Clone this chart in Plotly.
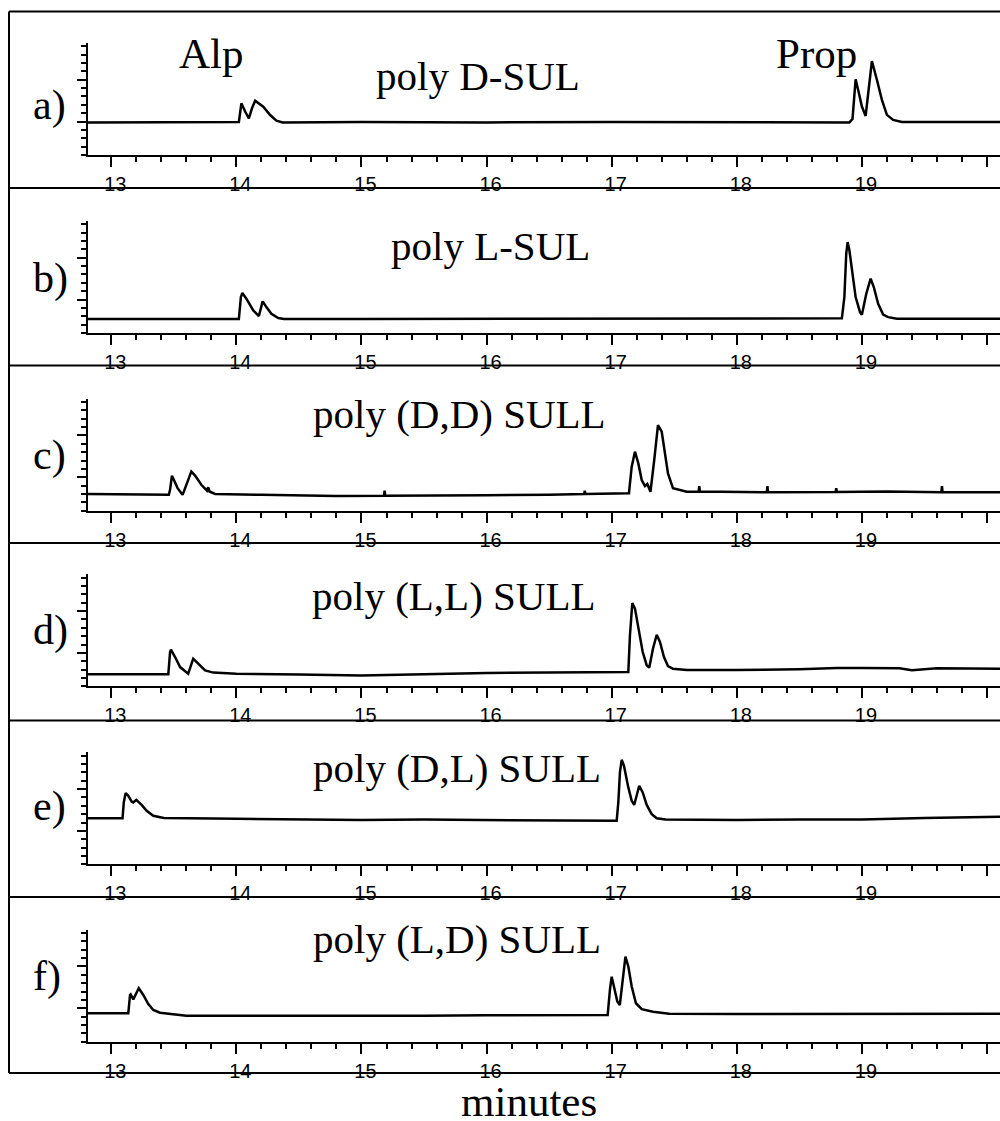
import plotly.graph_objects as go

# ---------------- data (retention time in minutes, detector signal in arbitrary units) -------------
panel_letters = ["a)", "b)", "c)", "d)", "e)", "f)"]
panel_titles = ["poly D-SUL", "poly L-SUL", "poly (D,D) SULL", "poly (L,L) SULL",
                "poly (D,L) SULL", "poly (L,D) SULL"]
peak_labels = ["Alp", "Prop"]
x_tick_vals = [13, 14, 15, 16, 17, 18, 19, 20]
x_tick_text = ["13", "14", "15", "16", "17", "18", "19", "20"]
x_label = "minutes"

t_a = [12.814, 13.5, 14.02, 14.035, 14.04, 14.07, 14.10, 14.125, 14.15, 14.215, 14.27, 14.32, 14.37,
       15.0, 16.0, 17.0, 18.0, 18.9, 18.925, 18.95, 18.97, 19.0, 19.03, 19.05, 19.08, 19.12,
       19.16, 19.2, 19.25, 19.32, 20.104]
s_a = [3.90, 3.92, 3.95, 5.6, 6.18, 5.2, 4.39, 5.6, 6.5, 5.78, 4.78, 4.1, 3.9,
       3.95, 3.9, 3.95, 3.9, 3.9, 4.3, 9.05, 7.8, 5.8, 4.67, 7.4, 11.24, 9.0,
       6.6, 4.8, 4.2, 3.95, 3.95]

t_b = [12.814, 13.5, 14.02, 14.036, 14.048, 14.08, 14.135, 14.18, 14.21, 14.24, 14.28, 14.335, 14.38,
       15.0, 16.0, 17.0, 18.0, 18.84, 18.86, 18.875, 18.886, 18.90, 18.925, 18.95, 18.985, 19.0,
       19.035, 19.07, 19.095, 19.13, 19.17, 19.21, 19.28, 20.104]
s_b = [1.67, 1.68, 1.67, 4.3, 4.78, 4.1, 2.7, 2.03, 3.79, 3.1, 2.3, 1.79, 1.67,
       1.67, 1.7, 1.67, 1.7, 1.75, 4.3, 9.5, 10.88, 9.9, 7.1, 4.3, 2.5, 2.19,
       4.7, 6.5, 5.5, 3.5, 2.2, 1.9, 1.7, 1.7]

t_c = [12.814, 13.2, 13.46, 13.47, 13.485, 13.50, 13.53, 13.57, 13.60, 13.64, 13.67, 13.72, 13.765,
       13.775, 13.785, 13.83, 14.2, 14.8, 15.18, 15.185, 15.19, 15.6, 16.0, 16.5, 16.78, 16.785,
       16.79, 17.138, 17.16, 17.186, 17.213, 17.24, 17.266, 17.285, 17.31, 17.34, 17.36, 17.37,
       17.40, 17.426, 17.45, 17.49, 17.60, 17.695, 17.70, 17.705, 18.24, 18.245, 18.25, 18.79,
       18.795, 18.80, 19.2, 19.635, 19.64, 19.645, 20.104]
s_c = [2.0, 1.95, 1.9, 2.5, 4.19, 3.7, 2.7, 1.9, 3.2, 4.67, 4.2, 3.1, 2.4,
       2.8, 2.3, 2.0, 1.9, 1.75, 1.8, 2.4, 1.8, 1.8, 1.85, 1.9, 2.0, 2.4,
       2.0, 2.1, 5.26, 7.06, 5.66, 3.67, 2.95, 3.2, 2.27, 6.06, 9.45, 10.25,
       9.45, 6.86, 4.47, 2.68, 2.27, 2.3, 2.95, 2.3, 2.2, 2.95, 2.2, 2.25,
       2.7, 2.25, 2.3, 2.2, 2.95, 2.2, 2.2]

t_d = [12.814, 13.2, 13.456, 13.47, 13.477, 13.51, 13.55, 13.615, 13.635, 13.655, 13.695, 13.75,
       13.815, 14.0, 14.5, 15.0, 15.5, 16.0, 16.5, 17.0, 17.133, 17.146, 17.165, 17.186, 17.213,
       17.248, 17.28, 17.30, 17.33, 17.36, 17.386, 17.418, 17.45, 17.49, 17.6, 18.0, 18.5, 18.8,
       19.0, 19.3, 19.4, 19.6, 20.104]
s_d = [1.44, 1.42, 1.44, 4.1, 4.38, 3.5, 2.3, 1.51, 2.3, 3.3, 2.7, 1.91,
       1.64, 1.5, 1.4, 1.3, 1.45, 1.6, 1.65, 1.7, 1.71, 6.1, 9.96, 9.3, 6.9,
       4.1, 2.5, 2.23, 4.5, 6.17, 5.3, 3.5, 2.43, 2.1, 1.95, 1.95, 2.05, 2.2,
       2.2, 2.15, 1.91, 2.15, 2.1]

t_e = [12.814, 13.09, 13.10, 13.115, 13.136, 13.163, 13.175, 13.20, 13.243, 13.283, 13.336, 13.42,
       14.0, 14.5, 15.0, 15.5, 16.0, 16.5, 17.04, 17.053, 17.066, 17.08, 17.098, 17.133, 17.16,
       17.18, 17.20, 17.22, 17.248, 17.28, 17.32, 17.36, 17.43, 18.0, 18.5, 19.0, 19.5, 20.104]
s_e = [5.5, 5.5, 7.4, 8.53, 8.2, 7.5, 7.4, 7.7, 7.1, 6.4, 5.8, 5.55,
       5.45, 5.35, 5.3, 5.35, 5.3, 5.25, 5.2, 7.4, 11.0, 12.5, 11.8, 9.2, 7.6,
       7.1, 8.4, 9.4, 8.6, 7.1, 6.0, 5.5, 5.35, 5.3, 5.35, 5.35, 5.55, 5.7]

t_f = [12.814, 13.136, 13.15, 13.155, 13.176, 13.203, 13.22, 13.256, 13.296, 13.336, 13.39, 13.6,
       14.0, 14.5, 15.0, 15.5, 16.0, 16.5, 16.968, 16.986, 17.0, 17.018, 17.045, 17.065, 17.088,
       17.11, 17.133, 17.16, 17.194, 17.24, 17.33, 17.46, 18.0, 18.5, 19.0, 19.5, 20.104]
s_f = [3.4, 3.4, 5.59, 5.67, 5.07, 5.98, 6.39, 5.59, 4.5, 3.8, 3.47, 3.11,
       3.1, 3.05, 3.1, 3.1, 3.15, 3.2, 3.2, 6.2, 7.78, 6.6, 4.8, 4.39, 7.8,
       10.17, 9.0, 6.6, 4.6, 3.9, 3.59, 3.35, 3.3, 3.3, 3.3, 3.35, 3.35]

times = [t_a, t_b, t_c, t_d, t_e, t_f]
signals = [s_a, s_b, s_c, s_d, s_e, s_f]

# ---------------- layout constants (pixels) ----------------
W, H = 1000, 1121
axis_bottom_px = [155, 333, 510.7, 686.3, 864.3, 1041.7]
axis_height_px = 112
box_lines_px = [11.5, 188, 365.5, 543, 720.5, 897, 1073]
letter_y_px = [105, 278, 455, 630, 806, 976]
title_pos_px = [(478, 76), (490, 246), (459, 414), (454, 596), (457, 768), (457, 939)]
label_pos_px = [(211.5, 54), (816.5, 54)]
xlabel_pos_px = (529, 1101)
x_range = [12.814, 20.104]
y_range = [0, 13.4]

SERIF = "Liberation Serif, Times New Roman, serif"
SANS = "Liberation Sans, Arial, sans-serif"


def py(px):
    return 1 - px / H


fig = go.Figure()
layout = dict(
    width=W, height=H, margin=dict(l=0, r=0, t=0, b=0),
    paper_bgcolor="white", plot_bgcolor="white", showlegend=False,
)

for i in range(6):
    n = "" if i == 0 else str(i + 1)
    fig.add_trace(go.Scatter(x=times[i], y=signals[i], mode="lines",
                             line=dict(color="black", width=2.5),
                             xaxis="x" + n, yaxis="y" + n, hoverinfo="skip"))
    b = axis_bottom_px[i]
    layout["xaxis" + n] = dict(
        domain=[0.088, 1.0], anchor="y" + n, range=x_range,
        showline=True, linecolor="black", linewidth=2, mirror=False,
        showgrid=False, zeroline=False,
        ticks="outside", ticklen=10, tickwidth=2, tickcolor="black",
        tickmode="array", tickvals=x_tick_vals, ticktext=x_tick_text,
        tickfont=dict(family=SANS, size=20, color="black"),
        ticklabelshift=4, ticklabelstandoff=0,
        minor=dict(dtick=0.2, tick0=13, ticks="outside", ticklen=5, tickwidth=2,
                   tickcolor="black", showgrid=False),
    )
    layout["yaxis" + n] = dict(
        domain=[py(b), py(b - axis_height_px)], anchor="x" + n, range=y_range,
        showline=True, linecolor="black", linewidth=2,
        showgrid=False, zeroline=False, showticklabels=False,
        ticks="outside", ticklen=9, tickwidth=2, tickcolor="black",
        tick0=4, dtick=5,
        minor=dict(dtick=1, tick0=4, ticks="outside", ticklen=5, tickwidth=2,
                   tickcolor="black", showgrid=False),
    )

fig.update_layout(**layout)

# panel boxes
shapes = []
for yb in box_lines_px:
    shapes.append(dict(type="line", xref="paper", yref="paper", x0=9 / W, x1=1.02,
                       y0=py(yb), y1=py(yb), line=dict(color="black", width=2)))
shapes.append(dict(type="line", xref="paper", yref="paper", x0=9 / W, x1=9 / W,
                   y0=py(box_lines_px[0]), y1=py(box_lines_px[-1]),
                   line=dict(color="black", width=2)))
fig.update_layout(shapes=shapes)

ann = []
for i in range(6):
    ann.append(dict(text=panel_letters[i], xref="paper", yref="paper",
                    x=31 / W, y=py(letter_y_px[i]), xanchor="left", yanchor="middle",
                    showarrow=False, font=dict(family=SERIF, size=42, color="black")))
    tx, ty = title_pos_px[i]
    ann.append(dict(text=panel_titles[i], xref="paper", yref="paper",
                    x=tx / W, y=py(ty), xanchor="center", yanchor="middle",
                    showarrow=False, font=dict(family=SERIF, size=41, color="black")))
for lab, (lx, ly) in zip(peak_labels, label_pos_px):
    ann.append(dict(text=lab, xref="paper", yref="paper", x=lx / W, y=py(ly),
                    xanchor="center", yanchor="middle", showarrow=False,
                    font=dict(family=SERIF, size=43, color="black")))
ann.append(dict(text=x_label, xref="paper", yref="paper", x=xlabel_pos_px[0] / W,
                y=py(xlabel_pos_px[1]), xanchor="center", yanchor="middle", showarrow=False,
                borderpad=0, font=dict(family=SERIF, size=43, color="black")))
fig.update_layout(annotations=ann)

fig.write_html("out.html")
